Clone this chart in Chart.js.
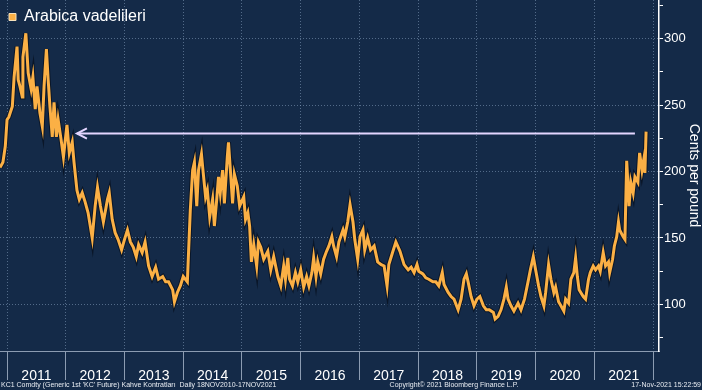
<!DOCTYPE html>
<html>
<head>
<meta charset="utf-8">
<script src="https://cdn.jsdelivr.net/npm/chart.js@4"></script>
<style>
  html, body { margin: 0; padding: 0; background: #142a48; }
  #wrap { width: 702px; height: 390px; }
</style>
</head>
<body>
<div id="wrap"><canvas id="chart" width="702" height="390"></canvas></div>
<script>
// decimal years
const dates = [
  2010.88, 2010.93, 2010.97, 2011.00, 2011.03, 2011.09, 2011.12, 2011.17, 2011.19, 2011.22,
  2011.26, 2011.27, 2011.32, 2011.36, 2011.41, 2011.44, 2011.48, 2011.51, 2011.56, 2011.60,
  2011.63, 2011.67, 2011.70, 2011.73, 2011.77, 2011.80, 2011.84, 2011.87, 2011.92, 2011.96,
  2012.02, 2012.06, 2012.11, 2012.14, 2012.19, 2012.23, 2012.28, 2012.33, 2012.38, 2012.45,
  2012.50, 2012.54, 2012.59, 2012.64, 2012.71, 2012.74, 2012.79, 2012.84, 2012.89, 2012.95,
  2013.00, 2013.05, 2013.10, 2013.15, 2013.20, 2013.24, 2013.30, 2013.35, 2013.41, 2013.47,
  2013.53, 2013.58, 2013.65, 2013.70, 2013.75, 2013.82, 2013.85, 2013.90, 2013.95, 2014.00,
  2014.07, 2014.09, 2014.12, 2014.16, 2014.19, 2014.23, 2014.26, 2014.31, 2014.34, 2014.38,
  2014.41, 2014.45, 2014.50, 2014.53, 2014.57, 2014.60, 2014.63, 2014.67, 2014.70, 2014.75,
  2014.77, 2014.81, 2014.84, 2014.87, 2014.92, 2014.96, 2015.03, 2015.06, 2015.10, 2015.13,
  2015.16, 2015.20, 2015.25, 2015.28, 2015.32, 2015.37, 2015.44, 2015.49, 2015.54, 2015.61,
  2015.66, 2015.71, 2015.74, 2015.78, 2015.81, 2015.86, 2015.91, 2015.95, 2016.00, 2016.05,
  2016.10, 2016.14, 2016.19, 2016.22, 2016.26, 2016.29, 2016.34, 2016.39, 2016.44, 2016.48,
  2016.53, 2016.56, 2016.61, 2016.65, 2016.72, 2016.75, 2016.80, 2016.84, 2016.89, 2016.92,
  2016.97, 2017.01, 2017.06, 2017.09, 2017.14, 2017.19, 2017.25, 2017.31, 2017.37, 2017.42,
  2017.47, 2017.50, 2017.57, 2017.62, 2017.69, 2017.76, 2017.83, 2017.88, 2017.93, 2017.98,
  2018.01, 2018.08, 2018.13, 2018.18, 2018.25, 2018.30, 2018.35, 2018.41, 2018.44, 2018.51,
  2018.56, 2018.61, 2018.68, 2018.73, 2018.78, 2018.82, 2018.85, 2018.90, 2018.95, 2019.00,
  2019.05, 2019.11, 2019.16, 2019.21, 2019.28, 2019.31, 2019.36, 2019.41, 2019.46, 2019.50,
  2019.53, 2019.58, 2019.63, 2019.70, 2019.75, 2019.81, 2019.87, 2019.91, 2019.96, 2020.00,
  2020.05, 2020.09, 2020.14, 2020.17, 2020.22, 2020.26, 2020.31, 2020.34, 2020.39, 2020.43,
  2020.48, 2020.51, 2020.56, 2020.60, 2020.65, 2020.68, 2020.71, 2020.74, 2020.81, 2020.85,
  2020.90, 2020.93, 2020.98, 2021.02, 2021.07, 2021.10, 2021.15, 2021.19, 2021.24, 2021.26,
  2021.31, 2021.34, 2021.38, 2021.41, 2021.43, 2021.49, 2021.52, 2021.55, 2021.59, 2021.62,
  2021.66, 2021.69, 2021.74, 2021.77, 2021.81, 2021.84, 2021.86, 2021.88
];
// cents per pound
const prices = [
  203, 207, 219, 239, 241, 249, 271, 294, 269, 264,
  256, 286, 304, 274, 262, 271, 247, 264, 244, 234,
  264, 292, 269, 249, 226, 252, 226, 239, 224, 211,
  235, 214, 222, 207, 186, 179, 184, 177, 169, 150,
  174, 188, 174, 162, 179, 184, 164, 154, 149, 141,
  149, 156, 147, 143, 136, 145, 139, 147, 129, 121,
  128, 119, 121, 117, 117, 111, 102, 109, 114, 121,
  117, 139, 171, 201, 207, 174, 201, 213, 199, 181,
  186, 166, 179, 159, 179, 196, 184, 201, 176, 211,
  222, 196, 176, 198, 189, 174, 181, 164, 169, 159,
  132, 145, 129, 147, 143, 134, 140, 126, 136, 121,
  114, 129, 119, 135, 119, 114, 124, 117, 126, 113,
  121, 114, 124, 135, 121, 132, 123, 134, 140, 144,
  151, 144, 136, 147, 156, 151, 162, 175, 162, 149,
  134, 151, 156, 141, 150, 141, 144, 132, 130, 129,
  114, 130, 140, 147, 140, 130, 126, 128, 124, 130,
  125, 123, 120, 119, 117, 117, 114, 124, 115, 109,
  106, 104, 96, 104, 119, 123, 117, 106, 99, 104,
  106, 99, 96, 96, 94, 89, 91, 96, 104, 113,
  104, 99, 95, 101, 96, 104, 117, 126, 136, 126,
  114, 106, 99, 109, 130, 119, 109, 113, 102, 99,
  95, 104, 101, 119, 124, 135, 121, 111, 106, 104,
  119, 124, 129, 126, 129, 125, 139, 129, 132, 124,
  134, 144, 151, 162, 156, 151, 149, 208, 174, 192,
  184, 196, 192, 214, 201, 209, 199, 230
];

const years = [2011, 2012, 2013, 2014, 2015, 2016, 2017, 2018, 2019, 2020, 2021, 2022];
const yTicks = [75, 100, 125, 150, 175, 200, 225, 250, 275, 300, 325];

// arrow from today's level back to late 2011
const arrowFrom = 2012.19;
const arrowTo = 2021.69;
const arrowLevel = 228.6;
const headLen = 0.17;
const headHalf = 3.8;

const seriesName = 'Arabica vadelileri';
const footLeft = "KC1 Comdty (Generic 1st 'KC' Future) Kahve Kontratları  Daily 18NOV2010-17NOV2021";
const footMid = 'Copyright\u00A9 2021 Bloomberg Finance L.P.';
const footRight = '17-Nov-2021 15:22:59';

const ORANGE = '#fbb045';
const GRID = 'rgba(135,160,192,0.55)';
const FONT = '"Liberation Sans", Arial, sans-serif';

const points = dates.map((d, i) => ({ x: d, y: prices[i] }));

const footerPlugin = {
  id: 'footer',
  afterDraw(chart) {
    const c = chart.ctx;
    c.save();
    c.fillStyle = '#e8ecf2';
    c.font = '7px ' + FONT;
    c.textBaseline = 'middle';
    c.textAlign = 'left';
    c.fillText(footLeft, 1, 385);
    c.textAlign = 'center';
    c.fillText(footMid, 454, 385);
    c.textAlign = 'right';
    c.fillText(footRight, 701, 385);
    c.restore();
  }
};

new Chart(document.getElementById('chart').getContext('2d'), {
  type: 'line',
  data: {
    datasets: [
      {
        label: 'outline',
        data: points,
        borderColor: '#0a1628',
        borderWidth: 5,
        pointRadius: 0,
        tension: 0,
        order: 3
      },
      {
        label: seriesName,
        data: points,
        borderColor: ORANGE,
        backgroundColor: ORANGE,
        borderWidth: 3,
        pointRadius: 0,
        tension: 0,
        order: 2
      },
      {
        label: 'arrow',
        data: [{ x: arrowFrom, y: arrowLevel }, { x: arrowTo, y: arrowLevel }],
        borderColor: '#e4d6ff',
        borderWidth: 2,
        pointRadius: 0,
        order: 1
      },
      {
        label: 'arrowhead',
        data: [
          { x: arrowFrom + headLen, y: arrowLevel + headHalf },
          { x: arrowFrom, y: arrowLevel },
          { x: arrowFrom + headLen, y: arrowLevel - headHalf }
        ],
        borderColor: '#e4d6ff',
        borderWidth: 2,
        pointRadius: 0,
        order: 1
      }
    ]
  },
  options: {
    responsive: false,
    animation: false,
    layout: { padding: { left: 0, top: 0, right: 0, bottom: 10 } },
    plugins: {
      tooltip: { enabled: false },
      legend: {
        position: 'chartArea',
        align: 'start',
        labels: {
          color: '#ffffff',
          font: { family: FONT, size: 16 },
          padding: 9,
          boxWidth: 7,
          boxHeight: 7,
          generateLabels: () => [{
            text: seriesName,
            fillStyle: ORANGE,
            strokeStyle: '#f6e2bd',
            lineWidth: 1,
            hidden: false,
            datasetIndex: 1,
            fontColor: '#ffffff'
          }]
        }
      }
    },
    scales: {
      x: {
        type: 'linear',
        min: 2010.88,
        max: 2022.10,
        afterBuildTicks: s => {
          const t = [];
          years.forEach(y => {
            t.push({ value: y });
            if (y < 2022) t.push({ value: y + 0.5 });
          });
          s.ticks = t;
        },
        afterFit: s => { s.height = 29; s.paddingLeft = 0; s.paddingRight = 0; },
        grid: {
          color: c => (c.tick && Number.isInteger(c.tick.value)) ? GRID : 'transparent',
          tickColor: c => (c.tick && Number.isInteger(c.tick.value)) ? '#8c9cb2' : 'transparent',
          tickLength: 29,
          lineWidth: 1
        },
        border: { color: '#8c9cb2', width: 1, dash: [1, 2] },
        ticks: {
          autoSkip: false,
          maxRotation: 0,
          padding: -12,
          color: '#ffffff',
          font: { family: FONT, size: 14 },
          callback: v => (v % 1) ? String(Math.floor(v)) : ''
        }
      },
      y: {
        position: 'right',
        min: 65,
        max: 329,
        afterBuildTicks: s => { s.ticks = yTicks.map(v => ({ value: v })); },
        afterFit: s => { s.width = 43; s.paddingTop = 0; s.paddingBottom = 0; },
        grid: {
          color: c => (c.tick && c.tick.value % 50 === 0) ? GRID : 'transparent',
          tickColor: '#ffffff',
          tickLength: 4
        },
        border: { color: '#ffffff', width: 1.5, dash: [1, 2] },
        ticks: {
          padding: 1,
          color: '#ffffff',
          font: { family: FONT, size: 13 },
          callback: v => (v % 50 === 0) ? String(v) : ''
        },
        title: {
          display: true,
          text: 'Cents per pound',
          color: '#ffffff',
          font: { family: FONT, size: 14 },
          padding: 0
        }
      }
    }
  },
  plugins: [footerPlugin]
});
</script>
</body>
</html>
